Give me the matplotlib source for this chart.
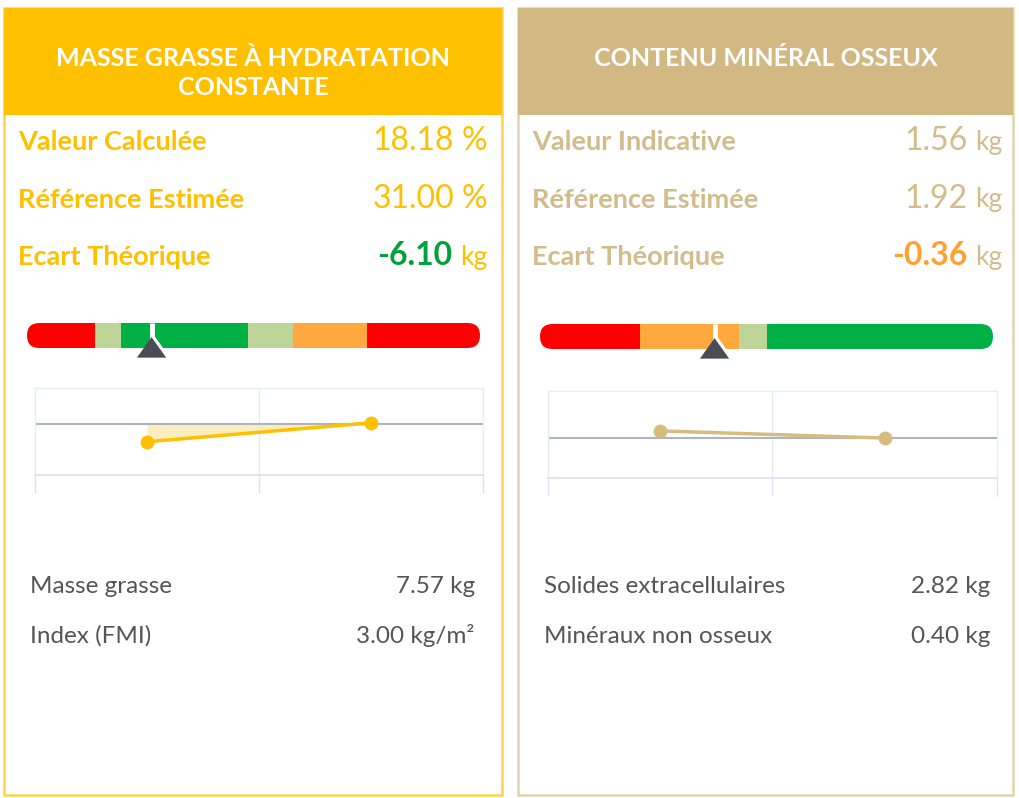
import matplotlib
matplotlib.use("Agg")
from matplotlib import pyplot as plt
from matplotlib.patches import Rectangle, FancyBboxPatch
import numpy as np

plt.rcParams['font.family'] = ['Lato', 'DejaVu Sans']

# ---- data ----
titles = ["MASSE GRASSE À HYDRATATION\nCONSTANTE", "CONTENU MINÉRAL OSSEUX"]

row_labels_left = ["Valeur Calculée", "Référence Estimée", "Ecart Théorique"]
row_values_left = ["18.18", "31.00", "-6.10"]
row_units_left = ["%", "%", "kg"]

row_labels_right = ["Valeur Indicative", "Référence Estimée", "Ecart Théorique"]
row_values_right = ["1.56", "1.92", "-0.36"]
row_units_right = ["kg", "kg", "kg"]

# gauge thresholds (0-100 scale) and colours per segment
gauge_left_edges = [0, 15, 20.8, 48.8, 58.7, 75, 100]
gauge_left_colors = ["red", "lightgreen", "green", "lightgreen", "orange", "red"]
gauge_left_marker = 27.6

gauge_right_edges = [0, 22, 43.9, 50, 100]
gauge_right_colors = ["red", "orange", "lightgreen", "green"]
gauge_right_marker = 38.6

# trend points relative to the reference line (0)
trend_x = [0.5, 1.5]
trend_left = [-0.35, 0.02]
trend_right = [0.14, 0.0]

extra_labels_left = ["Masse grasse", "Index (FMI)"]
extra_values_left = ["7.57 kg", "3.00 kg/m²"]
extra_labels_right = ["Solides extracellulaires", "Minéraux non osseux"]
extra_values_right = ["2.82 kg", "0.40 kg"]

# ---- styles ----
YELLOW = "#FFC000"
TAN = "#D2B883"
TAN_TEXT = "#D3BC8C"
GREY_TEXT = "#555555"
seg_colors = {"red": "#FF0000", "lightgreen": "#BDD597", "green": "#00B045", "orange": "#FFA83E"}

W, H = 1020, 798
fig = plt.figure(figsize=(W / 100, H / 100), dpi=100)
bg = fig.add_axes([0, 0, 1, 1])
bg.set_xlim(0, W)
bg.set_ylim(H, 0)
bg.axis("off")


def px_axes(x0, y0, x1, y1):
    return fig.add_axes([x0 / W, 1 - y1 / H, (x1 - x0) / W, (y1 - y0) / H])


renderer = fig.canvas.get_renderer()


def value_text(xr, yb, num, unit, num_color, unit_color, num_size, unit_size, num_weight):
    t = bg.text(xr, yb, unit, ha="right", va="baseline", fontsize=unit_size, color=unit_color)
    w = t.get_window_extent(renderer).width
    bg.text(xr - w - 7, yb, num, ha="right", va="baseline", fontsize=num_size,
            color=num_color, fontweight=num_weight)


def draw_card(x0, x1, head_color, border_color, text_color, title, title_y,
              labels, values, units, val_colors, val_weights, unit_sizes, right_pad):
    bg.add_patch(Rectangle((x0, 8), x1 - x0, 787, facecolor="white",
                           edgecolor=border_color, lw=1.8))
    bg.add_patch(Rectangle((x0, 8), x1 - x0, 107, facecolor=head_color, edgecolor="none"))
    bg.text((x0 + x1) / 2, title_y, title, ha="center", va="center", color="white",
            fontsize=18, fontweight="bold", linespacing=1.32)
    for i, (lab, val, unit) in enumerate(zip(labels, values, units)):
        yb = 150 + i * 57.5
        bg.text(x0 + 14, yb, lab, ha="left", va="baseline", fontsize=19.5,
                fontweight="bold", color=text_color)
        value_text(x1 - right_pad, yb, val, unit, val_colors[i], text_color, 23,
                   unit_sizes[i], val_weights[i])


def draw_gauge(x0, x1, y0, y1, edges, colors, marker):
    ax = px_axes(x0, y0, x1, y1)
    ax.set_xlim(edges[0], edges[-1])
    ax.set_ylim(0, 1)
    ax.axis("off")
    wpx, hpx = x1 - x0, y1 - y0
    r = (hpx / 2) / wpx
    clip = FancyBboxPatch((0, 0), 1, 1, boxstyle=f"round,pad=0,rounding_size={r}",
                          mutation_aspect=0.5 / r, transform=ax.transAxes,
                          facecolor="none", edgecolor="none")
    ax.add_patch(clip)
    lefts = edges[:-1]
    widths = np.diff(edges)
    bars = ax.barh(0.5, widths, left=lefts, height=1,
                   color=[seg_colors[c] for c in colors], edgecolor="none")
    for b in bars:
        b.set_clip_path(clip)
    ax.plot([marker, marker], [0, 1], color="white", lw=3.5, solid_capstyle="butt")
    tri = [(-1, -0.7), (1, -0.7), (0, 0.7)]
    ax.plot([marker], [0.06], marker=tri, markersize=24, color="#4A4C55",
            markeredgecolor="white", markeredgewidth=2.2, clip_on=False)


def draw_trend(x0, x1, y0, y1, ylim, values, color, fill):
    ax = px_axes(x0, y0, x1, y1)
    ax.set_xlim(0, 2)
    ax.set_ylim(*ylim)
    for s in ["left", "right", "top"]:
        ax.spines[s].set_color("#E8EBEF")
        ax.spines[s].set_linewidth(1)
    ax.spines["bottom"].set_color("#D6DFEE")
    ax.spines["bottom"].set_linewidth(1.2)
    ax.set_xticks([0, 1, 2])
    ax.set_xticklabels([])
    ax.set_yticks([])
    ax.tick_params(axis="x", length=13, width=1, color="#DDE4EF", direction="out")
    ax.axvline(1, color="#E8EBEF", lw=1)
    ax.axhline(0, color="#AEB5BD", lw=1.5)
    if fill:
        ax.fill_between(trend_x, values, 0, color="#FCE9B0", alpha=0.8, lw=0)
    ax.plot(trend_x, values, color=color, lw=2.5, marker="o", markersize=9)


def draw_extra(x0, x1, labels, values):
    for i, (lab, val) in enumerate(zip(labels, values)):
        yb = 593 + i * 50
        bg.text(x0, yb, lab, ha="left", va="baseline", fontsize=17.5, color=GREY_TEXT)
        bg.text(x1, yb, val, ha="right", va="baseline", fontsize=17.5, color=GREY_TEXT)


# left card
draw_card(4, 502, YELLOW, "#FFD24D", YELLOW, titles[0], 73,
          row_labels_left, row_values_left, row_units_left,
          [YELLOW, YELLOW, "#00A03A"], ["normal", "normal", "bold"], [23, 23, 19], 15)
draw_gauge(27, 480, 323, 348, gauge_left_edges, gauge_left_colors, gauge_left_marker)
draw_trend(35, 483, 388, 475, (-1.0, 0.7), trend_left, YELLOW, True)
draw_extra(30, 475, extra_labels_left, extra_values_left)

# right card
draw_card(518, 1013, TAN, "#E2D3B0", TAN_TEXT, titles[1], 58,
          row_labels_right, row_values_right, row_units_right,
          [TAN_TEXT, TAN_TEXT, "#FFA030"], ["normal", "normal", "bold"], [19, 19, 19], 11)
draw_gauge(540, 993, 324, 349, gauge_right_edges, gauge_right_colors, gauge_right_marker)
draw_trend(548, 997, 391, 478, (-0.78, 0.92), trend_right, "#D6BC80", False)
draw_extra(544, 990, extra_labels_right, extra_values_right)

fig.savefig("out.png", dpi=100)
